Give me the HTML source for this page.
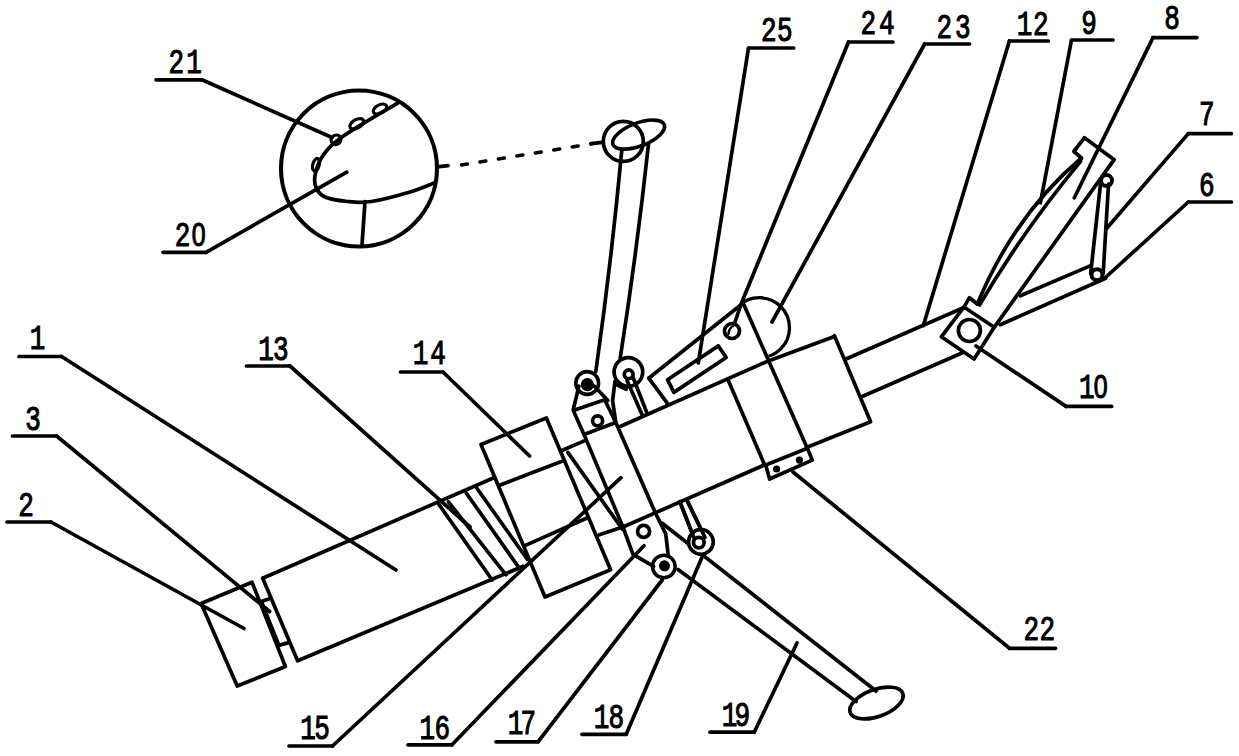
<!DOCTYPE html>
<html><head><meta charset="utf-8"><style>
html,body{margin:0;padding:0;background:#fff;}
body{width:1239px;height:756px;overflow:hidden;}
svg{display:block;}
</style></head><body>
<svg width="1239" height="756" viewBox="0 0 1239 756">
<defs><clipPath id="c23"><polygon points="717,244.5 800.1,424 900,424 900,244.5"/></clipPath></defs>
<rect width="1239" height="756" fill="#fff"/>
<g fill="none" stroke="#000" stroke-linecap="round" stroke-linejoin="round">
<polyline points="19.0,356.5 61.6,356.5" stroke-width="3.7"/>
<polyline points="61.6,356.5 396.0,570.0" stroke-width="3.7"/>
<polyline points="7.0,522.0 51.0,522.0" stroke-width="3.7"/>
<polyline points="51.0,522.0 244.0,628.5" stroke-width="3.7"/>
<polyline points="12.5,436.0 56.6,436.0" stroke-width="3.7"/>
<polyline points="56.6,436.0 269.6,611.5" stroke-width="3.7"/>
<polyline points="246.5,366.0 290.0,366.0" stroke-width="3.7"/>
<polyline points="290.0,366.0 470.0,527.0" stroke-width="3.7"/>
<polyline points="400.5,372.0 443.0,372.0" stroke-width="3.7"/>
<polyline points="443.0,372.0 529.6,456.0" stroke-width="3.7"/>
<polyline points="289.0,746.0 332.5,746.0" stroke-width="3.7"/>
<polyline points="332.5,746.0 621.0,477.7" stroke-width="3.7"/>
<polyline points="408.0,744.8 452.0,744.8" stroke-width="3.7"/>
<polyline points="452.0,744.8 644.0,545.7" stroke-width="3.7"/>
<polyline points="496.0,741.8 538.0,741.8" stroke-width="3.7"/>
<polyline points="538.0,741.8 662.2,580.0" stroke-width="3.7"/>
<polyline points="582.0,734.3 626.2,734.3" stroke-width="3.7"/>
<polyline points="626.2,734.3 701.8,557.7" stroke-width="3.7"/>
<polyline points="710.0,732.2 754.2,732.2" stroke-width="3.7"/>
<polyline points="754.2,732.2 797.0,643.0" stroke-width="3.7"/>
<polyline points="163.0,252.3 206.0,252.3" stroke-width="3.7"/>
<polyline points="206.0,252.3 346.8,172.1" stroke-width="3.7"/>
<polyline points="156.0,79.8 201.9,79.8" stroke-width="3.7"/>
<polyline points="201.9,79.8 332.0,137.5" stroke-width="3.7"/>
<polyline points="1009.5,648.3 1055.5,648.3" stroke-width="3.7"/>
<polyline points="1009.5,648.3 793.0,472.0" stroke-width="3.7"/>
<polyline points="924.6,44.0 969.5,44.0" stroke-width="3.7"/>
<polyline points="924.6,44.0 772.0,322.0" stroke-width="3.7"/>
<polyline points="848.5,42.0 893.0,42.0" stroke-width="3.7"/>
<polyline points="848.5,42.0 741.5,303.0 735.0,322.0" stroke-width="3.7"/>
<polyline points="748.5,48.0 793.7,48.0" stroke-width="3.7"/>
<polyline points="748.5,48.0 698.3,363.0" stroke-width="3.7"/>
<polyline points="1009.4,41.0 1048.4,41.0" stroke-width="3.7"/>
<polyline points="1009.4,41.0 923.3,325.6" stroke-width="3.7"/>
<polyline points="1071.5,40.0 1113.0,40.0" stroke-width="3.7"/>
<polyline points="1071.5,40.0 1040.4,202.8" stroke-width="3.7"/>
<polyline points="1153.0,37.6 1197.0,37.6" stroke-width="3.7"/>
<polyline points="1153.0,37.6 1074.3,197.8" stroke-width="3.7"/>
<polyline points="1188.3,133.6 1231.4,133.6" stroke-width="3.7"/>
<polyline points="1188.3,133.6 1105.7,229.5" stroke-width="3.7"/>
<polyline points="1188.3,202.0 1231.4,202.0" stroke-width="3.7"/>
<polyline points="1188.3,202.0 1106.0,277.0" stroke-width="3.7"/>
<polyline points="1066.0,406.4 1111.7,406.4" stroke-width="3.7"/>
<polyline points="1066.0,406.4 976.0,346.0" stroke-width="3.7"/>
<circle cx="359" cy="168.5" r="78" stroke-width="4.1"/>
<path d="M398.4,102.7 C392.6,106.1 373.0,117.5 363.5,123.3 C354.0,129.1 347.4,133.1 341.3,137.6 C335.2,142.1 331.0,145.5 327.0,150.3 C323.0,155.1 319.5,160.6 317.5,166.2 C315.5,171.8 313.9,178.9 315.0,184.0 C316.1,189.1 318.6,193.6 324.0,196.5 C329.4,199.4 339.7,200.7 347.6,201.5 C355.5,202.3 361.0,203.1 371.4,201.5 C381.8,199.9 399.6,195.1 410.0,192.0 C420.4,188.9 430.0,184.5 434.0,183.0" stroke-width="3.7"/>
<ellipse cx="316" cy="164.8" rx="3.2" ry="6.5" transform="rotate(15 316 164.8)" stroke-width="3.2"/>
<ellipse cx="336" cy="139.8" rx="5" ry="4.6" transform="rotate(-40 336 139.8)" stroke-width="3.2"/>
<ellipse cx="356.8" cy="123.8" rx="7.6" ry="4.2" transform="rotate(-30 356.8 123.8)" stroke-width="3.2"/>
<ellipse cx="380" cy="109" rx="7.2" ry="4.2" transform="rotate(-28 380 109)" stroke-width="3.2"/>
<polyline points="365.0,201.5 362.0,245.0" stroke-width="3.7"/>
<polyline points="437.0,166.8 448.0,165.6" stroke-width="3.7"/>
<path d="M460,165.3 L592,143.7" stroke-width="3.5" stroke-dasharray="6 12.7" stroke-dashoffset="-1.5"/>
<polyline points="591.0,143.6 602.0,142.3" stroke-width="3.7"/>
<circle cx="623.3" cy="141.4" r="20" stroke-width="3.7"/>
<ellipse cx="638.6" cy="134.6" rx="27.5" ry="11.5" transform="rotate(-21 638.6 134.6)" stroke-width="3.7"/>
<path d="M621.7,151 Q611.5,261 595.8,371.5" stroke-width="3.7"/>
<path d="M648.5,144 Q637,251 620.2,358.3" stroke-width="3.7"/>
<polygon points="201.1,603.5 252.0,582.2 285.4,666.5 237.2,686.0" stroke-width="3.7"/>
<polyline points="268.8,598.9 261.3,601.4 278.9,645.4 287.7,642.9" stroke-width="3.7"/>
<polyline points="262.7,578.2 493.9,477.7" stroke-width="3.7"/>
<polyline points="262.7,578.2 297.6,660.8 523.1,566.3" stroke-width="3.7"/>
<polyline points="438.9,504.4 492.2,580.0" stroke-width="3.7"/>
<polyline points="448.4,501.8 506.0,574.9" stroke-width="3.7"/>
<polyline points="466.4,493.2 519.7,568.8" stroke-width="3.7"/>
<polyline points="476.7,488.0 527.4,559.4" stroke-width="3.7"/>
<polygon points="481.0,444.5 546.4,418.0 610.6,569.8 545.0,597.0" stroke-width="3.7"/>
<polyline points="499.0,485.5 561.3,461.6" stroke-width="3.7"/>
<polyline points="524.9,545.6 587.0,518.0" stroke-width="3.7"/>
<polyline points="561.3,450.7 585.4,440.4" stroke-width="3.7"/>
<polyline points="567.8,452.4 622.4,529.3" stroke-width="3.7"/>
<polyline points="599.3,534.8 623.5,526.8" stroke-width="3.7"/>
<circle cx="587.2" cy="383" r="11.4" stroke-width="3.6"/>
<circle cx="587.4" cy="384.6" r="6.6" stroke-width="3.7" fill="#000" stroke="none"/>
<polyline points="578.9,386.2 573.3,409.2" stroke-width="3.7"/>
<polyline points="594.4,386.2 607.9,400.5" stroke-width="3.7"/>
<polygon points="573.3,410.5 604.7,399.7 615.8,422.5 584.0,434.4" stroke-width="3.7"/>
<circle cx="597.6" cy="420.8" r="5" stroke-width="3.7"/>
<polyline points="584.0,434.4 623.5,528.5 633.0,554.3 653.6,566.3" stroke-width="3.7"/>
<polyline points="615.8,422.5 655.4,513.0 665.7,533.6 668.3,556.0" stroke-width="3.7"/>
<circle cx="643.6" cy="531.4" r="6" stroke-width="3.7"/>
<circle cx="663.8" cy="566.5" r="11.3" stroke-width="3.5"/>
<circle cx="664.5" cy="565.8" r="5.5" stroke-width="3.7" fill="#000" stroke="none"/>
<circle cx="628.4" cy="372" r="14.3" stroke-width="3.7"/>
<circle cx="628.7" cy="374.3" r="4.4" stroke-width="3.7"/>
<polyline points="615.0,381.3 612.6,400.5 615.8,422.5" stroke-width="3.7"/>
<polyline points="615.9,384.4 626.2,389.2" stroke-width="3.7"/>
<polyline points="627.0,380.5 642.0,414.6" stroke-width="3.7"/>
<polyline points="633.3,378.0 646.8,412.6" stroke-width="3.7"/>
<circle cx="700.9" cy="541.9" r="12.2" stroke-width="3.7"/>
<circle cx="698.8" cy="542.6" r="5.3" stroke-width="3.7"/>
<polyline points="679.8,501.6 694.3,538.6" stroke-width="3.7"/>
<polyline points="687.0,500.3 704.9,537.3" stroke-width="3.7"/>
<polyline points="620.7,426.2 767.0,361.5 834.4,336.5" stroke-width="3.7"/>
<polyline points="623.5,526.8 765.0,464.7" stroke-width="3.7"/>
<polyline points="744.0,305.0 806.4,446.2" stroke-width="3.7"/>
<polyline points="728.0,379.7 764.7,465.1" stroke-width="3.7"/>
<polygon points="765.7,465.0 807.4,448.2 812.3,460.1 769.6,479.0" stroke-width="3.7"/>
<circle cx="776.6" cy="469" r="3.6" stroke-width="3.7" fill="#000" stroke="none"/>
<circle cx="799.4" cy="460.1" r="3.6" stroke-width="3.7" fill="#000" stroke="none"/>
<polyline points="834.4,335.6 870.6,421.7 806.4,447.5" stroke-width="3.7"/>
<circle cx="759.5" cy="327.7" r="30" stroke-width="3.3" clip-path="url(#c23)"/>
<polyline points="648.7,378.2 742.0,304.0" stroke-width="3.7"/>
<polyline points="648.7,378.2 667.1,402.9" stroke-width="3.7"/>
<polygon points="667.5,379.7 718.3,345.9 726.2,357.5 673.9,392.4" stroke-width="3.7"/>
<circle cx="732" cy="331" r="7.5" stroke-width="3.7"/>
<path d="M728.5,334 Q729,328 733,326" stroke-width="2.5"/>
<polyline points="662.2,523.3 876.0,691.0" stroke-width="3.7"/>
<polyline points="678.0,569.5 856.0,701.5" stroke-width="3.7"/>
<ellipse cx="876.5" cy="703" rx="28" ry="13.5" transform="rotate(-20 876.5 703)" stroke-width="3.7"/>
<circle cx="700.9" cy="541.9" r="12.2" stroke-width="3.3" fill="#fff"/>
<polyline points="679.8,501.6 694.3,538.6" stroke-width="3.7"/>
<polyline points="687.0,500.3 704.9,537.3" stroke-width="3.7"/>
<circle cx="698.8" cy="542.6" r="5.3" stroke-width="3.7"/>
<polyline points="846.0,359.0 964.0,307.5" stroke-width="3.7"/>
<polyline points="861.0,397.0 962.5,352.7" stroke-width="3.7"/>
<polyline points="977.3,304.0 969.4,297.7 964.6,306.1 941.3,336.8 974.1,359.0 994.2,327.3 965.7,308.3" stroke-width="3.7"/>
<circle cx="969.4" cy="330.5" r="11" stroke-width="3.7"/>
<path d="M977.3,304 Q1014.4,214.6 1081.5,158" stroke-width="3.7"/>
<path d="M979.5,305 Q1025,228 1080.6,161.4" stroke-width="3.7"/>
<polyline points="1110.7,164.4 994.2,327.3" stroke-width="3.7"/>
<polyline points="1081.5,158.0 1073.8,151.5 1084.5,137.7 1114.2,159.7 1110.7,164.4" stroke-width="3.7"/>
<polyline points="1100.5,184.0 1090.7,273.2" stroke-width="3.7"/>
<polyline points="1108.5,184.0 1103.2,273.2" stroke-width="3.7"/>
<circle cx="1106.5" cy="180.5" r="5.5" stroke-width="4"/>
<circle cx="1097" cy="274.8" r="5.5" stroke-width="4"/>
<polyline points="1020.3,295.8 1090.7,265.6" stroke-width="3.7"/>
<polyline points="1000.2,324.7 1105.7,278.2" stroke-width="3.7"/>
</g>
<g font-family="Liberation Mono, monospace" font-size="35.2" fill="#000" stroke="#000" stroke-width="1.1">
<g transform="translate(29.81,349.0) scale(0.74,1)"><text x="0.00" y="0">1</text></g>
<g transform="translate(18.31,516.0) scale(0.74,1)"><text x="0.00" y="0">2</text></g>
<g transform="translate(25.31,430.0) scale(0.74,1)"><text x="0.00" y="0">3</text></g>
<g transform="translate(258.31,360.0) scale(0.74,1)"><text x="0.00" y="0">1</text><text x="20.00" y="0">3</text></g>
<g transform="translate(412.81,364.0) scale(0.74,1)"><text x="0.00" y="0">1</text><text x="23.51" y="0">4</text></g>
<g transform="translate(300.31,738.5) scale(0.74,1)"><text x="0.00" y="0">1</text><text x="18.92" y="0">5</text></g>
<g transform="translate(419.61,738.5) scale(0.74,1)"><text x="0.00" y="0">1</text><text x="20.14" y="0">6</text></g>
<g transform="translate(507.81,734.0) scale(0.74,1)"><text x="0.00" y="0">1</text><text x="17.30" y="0">7</text></g>
<g transform="translate(593.81,728.0) scale(0.74,1)"><text x="0.00" y="0">1</text><text x="20.00" y="0">8</text></g>
<g transform="translate(721.81,726.0) scale(0.74,1)"><text x="0.00" y="0">1</text><text x="17.30" y="0">9</text></g>
<g transform="translate(174.81,246.0) scale(0.74,1)"><text x="0.00" y="0">2</text><text x="22.79" y="0" font-family="Liberation Sans, sans-serif" font-size="33.69">0</text></g>
<g transform="translate(168.41,72.8) scale(0.74,1)"><text x="0.00" y="0">2</text><text x="24.19" y="0">1</text></g>
<g transform="translate(1023.51,640.0) scale(0.74,1)"><text x="0.00" y="0">2</text><text x="21.76" y="0">2</text></g>
<g transform="translate(936.61,37.5) scale(0.74,1)"><text x="0.00" y="0">2</text><text x="24.73" y="0">3</text></g>
<g transform="translate(860.61,34.2) scale(0.74,1)"><text x="0.00" y="0">2</text><text x="24.73" y="0">4</text></g>
<g transform="translate(761.11,41.0) scale(0.74,1)"><text x="0.00" y="0">2</text><text x="21.49" y="0">5</text></g>
<g transform="translate(1016.71,35.0) scale(0.74,1)"><text x="0.00" y="0">1</text><text x="22.03" y="0">2</text></g>
<g transform="translate(1081.31,33.8) scale(0.74,1)"><text x="0.00" y="0">9</text></g>
<g transform="translate(1164.31,29.0) scale(0.74,1)"><text x="0.00" y="0">8</text></g>
<g transform="translate(1199.11,124.7) scale(0.74,1)"><text x="0.00" y="0">7</text></g>
<g transform="translate(1199.11,195.6) scale(0.74,1)"><text x="0.00" y="0">6</text></g>
<g transform="translate(1079.11,397.7) scale(0.74,1)"><text x="0.00" y="0">1</text><text x="19.82" y="0" font-family="Liberation Sans, sans-serif" font-size="33.69">0</text></g>
</g>
</svg>
</body></html>
